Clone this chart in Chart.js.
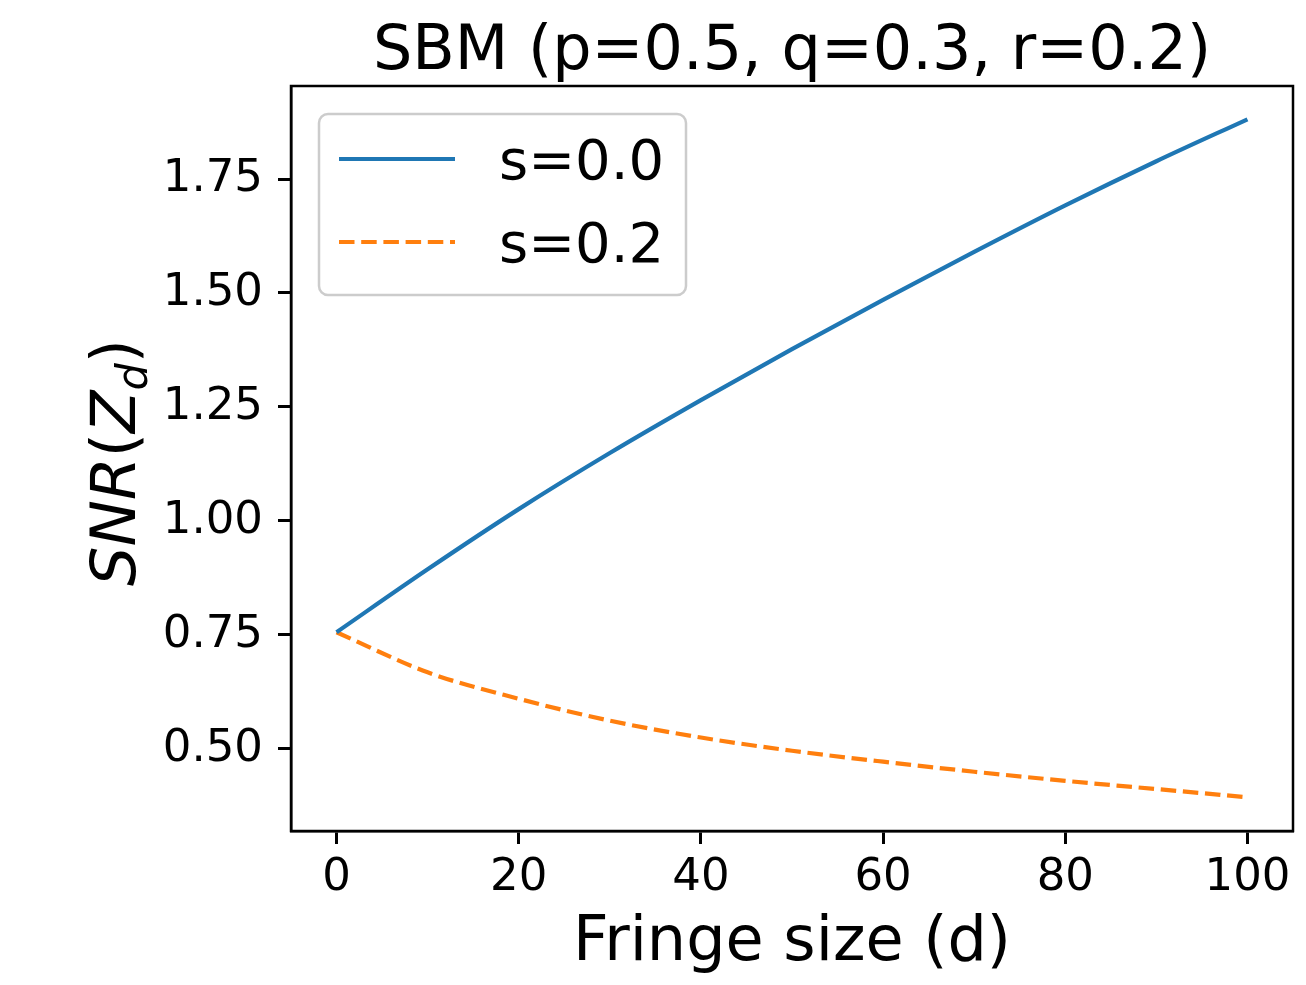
<!DOCTYPE html>
<html>
<head>
<meta charset="utf-8">
<script src="https://cdn.jsdelivr.net/npm/chart.js@4"></script>
<style>
  html, body { margin: 0; padding: 0; background: #fff; }
  #myChart { display: block; }
</style>
</head>
<body>
<canvas id="myChart" width="1306" height="985"></canvas>
<script>
// data
const fringeSize = [0, 10, 20, 30, 40, 50, 60, 70, 80, 90, 100];
const snrS00 = [0.756, 0.894, 1.026, 1.149, 1.265, 1.377, 1.485, 1.590, 1.692, 1.789, 1.881];
const snrS02 = [0.756, 0.668, 0.610, 0.562, 0.525, 0.496, 0.472, 0.450, 0.430, 0.412, 0.394];
const seriesLabels = ['s=0.0', 's=0.2'];
const xTicks = [0, 20, 40, 60, 80, 100];
const yTicks = [0.50, 0.75, 1.00, 1.25, 1.50, 1.75];

const FONT = '"DejaVu Sans", "Liberation Sans", sans-serif';

const toPoints = (ys) => fringeSize.map((x, i) => ({x, y: ys[i]}));

// frame, title, axis labels and legend, matplotlib style
const decor = {
  id: 'decor',
  afterDraw: function(chart) {
    const ctx = chart.ctx;
    const a = chart.chartArea;
    const cx = (a.left + a.right) / 2;
    ctx.save();

    // full box round the axes
    ctx.strokeStyle = '#000';
    ctx.lineWidth = 2.5;
    ctx.strokeRect(a.left, a.top, a.right - a.left, a.bottom - a.top);

    ctx.fillStyle = '#000';
    ctx.textBaseline = 'alphabetic';
    ctx.textAlign = 'center';
    ctx.font = '62px ' + FONT;
    ctx.fillText('SBM (p=0.5, q=0.3, r=0.2)', cx, 69);
    ctx.fillText('Fringe size (d)', cx, 960);

    // y label: SNR(Z_d), mathtext look
    const parts = [
      {t: 'SNR', f: 'italic 62px ' + FONT, dy: 0},
      {t: '(', f: '62px ' + FONT, dy: 0},
      {t: 'Z', f: 'italic 62px ' + FONT, dy: 0},
      {t: 'd', f: 'italic 43px ' + FONT, dy: 12},
      {t: ')', f: '62px ' + FONT, dy: 0}
    ];
    let total = 0;
    parts.forEach((p) => { ctx.font = p.f; p.w = ctx.measureText(p.t).width; total += p.w; });
    ctx.translate(135, (a.top + a.bottom) / 2 + 4);
    ctx.rotate(-Math.PI / 2);
    ctx.textAlign = 'left';
    let x = -total / 2;
    parts.forEach((p) => { ctx.font = p.f; ctx.fillText(p.t, x, p.dy); x += p.w; });
    ctx.setTransform(1, 0, 0, 1, 0, 0);

    // legend box
    const lx = a.left + 28, ly = a.top + 28, lw = 367, lh = 181, r = 9;
    ctx.beginPath();
    ctx.roundRect(lx, ly, lw, lh, r);
    ctx.fillStyle = 'rgba(255,255,255,0.8)';
    ctx.fill();
    ctx.strokeStyle = '#cccccc';
    ctx.lineWidth = 2.5;
    ctx.stroke();

    chart.data.datasets.forEach((ds, i) => {
      const yy = ly + 45 + i * 83;
      ctx.beginPath();
      ctx.setLineDash(ds.borderDash || []);
      ctx.strokeStyle = ds.borderColor;
      ctx.lineWidth = ds.borderWidth;
      ctx.moveTo(lx + 20, yy);
      ctx.lineTo(lx + 136, yy);
      ctx.stroke();
      ctx.setLineDash([]);
      ctx.fillStyle = '#000';
      ctx.font = '56px ' + FONT;
      ctx.textAlign = 'left';
      ctx.fillText(ds.label, lx + 180, yy + 20);
    });
    ctx.restore();
  }
};

const data = {
  datasets: [
    {
      label: seriesLabels[0],
      data: toPoints(snrS00),
      borderColor: '#1f77b4',
      borderWidth: 4.2,
      pointRadius: 0,
      cubicInterpolationMode: 'monotone',
      fill: false
    },
    {
      label: seriesLabels[1],
      data: toPoints(snrS02),
      borderColor: '#ff7f0e',
      borderWidth: 4.2,
      borderDash: [15.5, 6.7],
      pointRadius: 0,
      cubicInterpolationMode: 'monotone',
      fill: false
    }
  ]
};

const options = {
  responsive: false,
  devicePixelRatio: 1,
  animation: false,
  layout: { padding: { top: 86, right: 13, left: 0, bottom: 0 } },
  plugins: {
    legend: { display: false },
    title: { display: false },
    tooltip: { enabled: false }
  },
  scales: {
    x: {
      type: 'linear',
      min: -5,
      max: 105,
      afterBuildTicks: (scale) => { scale.ticks = xTicks.map((v) => ({value: v})); },
      afterFit: (scale) => { scale.height = 154; },
      ticks: {
        color: '#000',
        font: { family: FONT, size: 45 },
        padding: 7,
        maxRotation: 0,
        callback: (v) => String(v)
      },
      grid: {
        display: true,
        drawOnChartArea: false,
        drawTicks: true,
        tickLength: 13,
        tickWidth: 3,
        tickColor: '#000'
      },
      border: { display: true, color: '#000', width: 2.5 }
    },
    y: {
      type: 'linear',
      min: 0.320,
      max: 1.954,
      afterBuildTicks: (scale) => { scale.ticks = yTicks.map((v) => ({value: v})); },
      afterFit: (scale) => { scale.width = 291; },
      ticks: {
        color: '#000',
        font: { family: FONT, size: 45 },
        padding: 15,
        callback: (v) => Number(v).toFixed(2)
      },
      grid: {
        display: true,
        drawOnChartArea: false,
        drawTicks: true,
        tickLength: 13,
        tickWidth: 3,
        tickColor: '#000'
      },
      border: { display: true, color: '#000', width: 2.5 }
    }
  }
};

const config = {
  type: 'line',
  data,
  options,
  plugins: [decor]
};

//render block
new Chart(document.getElementById('myChart'), config);
</script>
</body>
</html>
